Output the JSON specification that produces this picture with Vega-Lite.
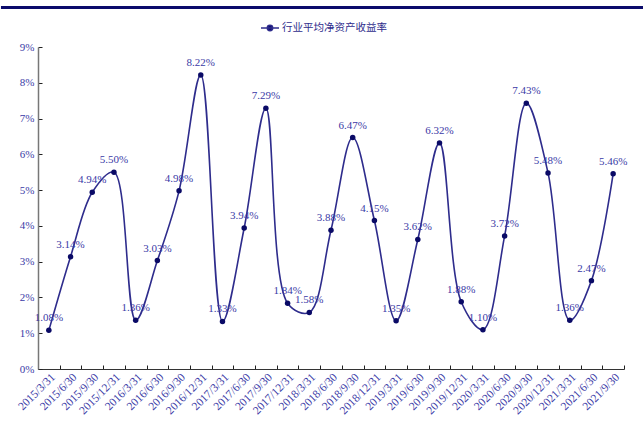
{
  "$schema": "https://vega.github.io/schema/vega-lite/v6.json",
  "padding": {"left": 0, "top": 6, "right": 0, "bottom": 0},
  "background": "white",
  "spacing": 9,
  "config": {
    "view": {"stroke": null},
    "font": "Liberation Serif"
  },
  "resolve": {"legend": {"color": "independent"}},
  "vconcat": [
    {
      "description": "header band across the top",
      "width": 586,
      "height": 3,
      "data": {"values": [{}]},
      "mark": {"type": "rect", "color": "#0b0b6b"},
      "encoding": {
        "x": {"datum": -0.0632, "type": "quantitative", "scale": {"domain": [0, 1], "nice": false, "zero": false}, "axis": null},
        "x2": {"datum": 1.035}
      }
    },
    {
      "resolve": {"legend": {"color": "independent"}},
      "hconcat": [
        {
          "width": 586,
          "height": 322,
          "data": {
            "values": [
              {"date": "2015/3/31", "roe": 0.0108, "series": "行业平均净资产收益率"},
              {"date": "2015/6/30", "roe": 0.0314, "series": "行业平均净资产收益率"},
              {"date": "2015/9/30", "roe": 0.0494, "series": "行业平均净资产收益率"},
              {"date": "2015/12/31", "roe": 0.0550, "series": "行业平均净资产收益率"},
              {"date": "2016/3/31", "roe": 0.0136, "series": "行业平均净资产收益率"},
              {"date": "2016/6/30", "roe": 0.0303, "series": "行业平均净资产收益率"},
              {"date": "2016/9/30", "roe": 0.0498, "series": "行业平均净资产收益率"},
              {"date": "2016/12/31", "roe": 0.0822, "series": "行业平均净资产收益率"},
              {"date": "2017/3/31", "roe": 0.0133, "series": "行业平均净资产收益率"},
              {"date": "2017/6/30", "roe": 0.0394, "series": "行业平均净资产收益率"},
              {"date": "2017/9/30", "roe": 0.0729, "series": "行业平均净资产收益率"},
              {"date": "2017/12/31", "roe": 0.0184, "series": "行业平均净资产收益率"},
              {"date": "2018/3/31", "roe": 0.0158, "series": "行业平均净资产收益率"},
              {"date": "2018/6/30", "roe": 0.0388, "series": "行业平均净资产收益率"},
              {"date": "2018/9/30", "roe": 0.0647, "series": "行业平均净资产收益率"},
              {"date": "2018/12/31", "roe": 0.0415, "series": "行业平均净资产收益率"},
              {"date": "2019/3/31", "roe": 0.0135, "series": "行业平均净资产收益率"},
              {"date": "2019/6/30", "roe": 0.0362, "series": "行业平均净资产收益率"},
              {"date": "2019/9/30", "roe": 0.0632, "series": "行业平均净资产收益率"},
              {"date": "2019/12/31", "roe": 0.0188, "series": "行业平均净资产收益率"},
              {"date": "2020/3/31", "roe": 0.0110, "series": "行业平均净资产收益率"},
              {"date": "2020/6/30", "roe": 0.0372, "series": "行业平均净资产收益率"},
              {"date": "2020/9/30", "roe": 0.0743, "series": "行业平均净资产收益率"},
              {"date": "2020/12/31", "roe": 0.0548, "series": "行业平均净资产收益率"},
              {"date": "2021/3/31", "roe": 0.0136, "series": "行业平均净资产收益率"},
              {"date": "2021/6/30", "roe": 0.0247, "series": "行业平均净资产收益率"},
              {"date": "2021/9/30", "roe": 0.0546, "series": "行业平均净资产收益率"}
            ]
          },
          "encoding": {
            "x": {
              "field": "date",
              "type": "ordinal",
              "sort": null,
              "scale": {"type": "band", "paddingInner": 0, "paddingOuter": 0},
              "axis": {
                "title": null,
                "labelAngle": -45,
                "labelColor": "#3a3aa6",
                "labelFont": "Liberation Serif",
                "labelFontSize": 11.5,
                "labelPadding": 6,
                "labelOverlap": false,
                "tickBand": "extent",
                "tickSize": -4,
                "tickWidth": 1,
                "tickColor": "#222222",
                "domainColor": "#333333",
                "domainWidth": 1.2,
                "grid": false
              }
            },
            "y": {
              "field": "roe",
              "type": "quantitative",
              "scale": {"domain": [0, 0.09], "nice": false},
              "axis": {
                "title": null,
                "format": ".0%",
                "values": [0, 0.01, 0.02, 0.03, 0.04, 0.05, 0.06, 0.07, 0.08, 0.09],
                "labelOverlap": false,
                "labelColor": "#3a3aa6",
                "labelFont": "Liberation Serif",
                "labelFontSize": 11,
                "labelPadding": 8,
                "tickSize": -4,
                "tickWidth": 1,
                "tickColor": "#222222",
                "domainColor": "#777777",
                "domainWidth": 1.5,
                "grid": false,
                "minExtent": 37,
                "maxExtent": 37
              }
            }
          },
          "layer": [
            {
              "mark": {"type": "line", "interpolate": "catmull-rom", "strokeWidth": 1.6},
              "encoding": {
                "color": {
                  "field": "series",
                  "type": "nominal",
                  "scale": {"range": ["#2e2c8c"]},
                  "legend": {
                    "title": null,
                    "orient": "none",
                    "legendX": 222,
                    "legendY": -29,
                    "symbolType": "M-1,0L1,0M0.3,0A0.3,0.3,0,1,1,-0.3,0A0.3,0.3,0,1,1,0.3,0Z",
                    "symbolSize": 324,
                    "symbolStrokeWidth": 1.5,
                    "labelFont": "Noto Sans CJK SC",
                    "labelFontSize": 10.5,
                    "labelColor": "#2e2c8c",
                    "labelOffset": 2,
                    "encode": {
                      "symbols": {
                        "update": {
                          "fill": {"value": "#0d0d6e"},
                          "stroke": {"value": "#2e2c8c"},
                          "strokeWidth": {"value": 1.5}
                        }
                      }
                    }
                  }
                }
              }
            },
            {
              "mark": {"type": "point", "filled": true, "size": 30, "color": "#0a0a66", "opacity": 1}
            },
            {
              "mark": {"type": "text", "dy": -12, "baseline": "middle", "fontSize": 11, "font": "Liberation Serif", "color": "#3a3aa6"},
              "encoding": {
                "text": {"field": "roe", "type": "quantitative", "format": ".2%"}
              }
            }
          ]
        }
      ]
    }
  ]
}
